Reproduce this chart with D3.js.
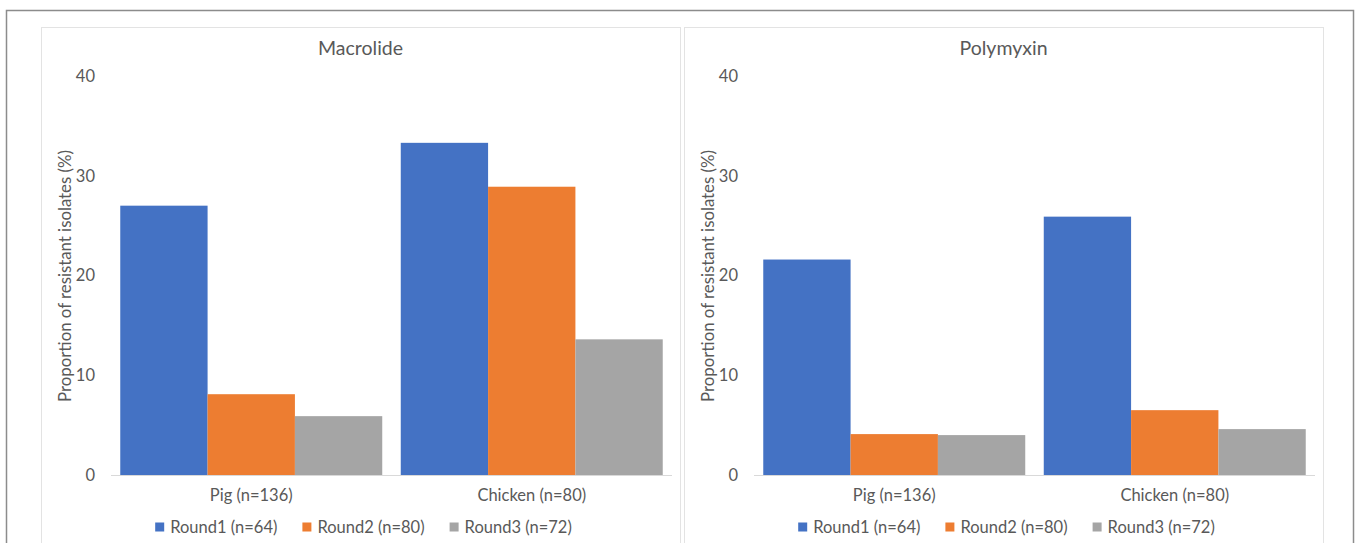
<!DOCTYPE html>
<html>
<head>
<meta charset="utf-8">
<script src="https://cdn.jsdelivr.net/npm/d3@7"></script>
<style>
  html, body { margin: 0; padding: 0; background: #fff; }
  svg { display: block; font-family: Lato, "Open Sans", sans-serif; }
</style>
</head>
<body>
<svg id="chart" width="1357" height="543"></svg>
<script>
// Resistance proportions (%) by animal and sampling round
const categories = ["Pig (n=136)", "Chicken (n=80)"];
const rounds = ["Round1 (n=64)", "Round2 (n=80)", "Round3 (n=72)"];
const panelTitles = ["Macrolide", "Polymyxin"];

const macrolideRound1 = [27.0, 33.3];
const macrolideRound2 = [8.1, 28.9];
const macrolideRound3 = [5.9, 13.6];

const polymyxinRound1 = [21.6, 25.9];
const polymyxinRound2 = [4.1, 6.5];
const polymyxinRound3 = [4.0, 4.6];

const yTicks = [0, 10, 20, 30, 40];
const yTitle = "Proportion of resistant isolates (%)";
const colors = ["#4472C4", "#ED7D31", "#A5A5A5"];

const panelSeries = [
  [macrolideRound1, macrolideRound2, macrolideRound3],
  [polymyxinRound1, polymyxinRound2, polymyxinRound3]
];

const svg = d3.select("#chart");
const textColor = "#595959";
const fontStack = "Lato, 'Open Sans', sans-serif";

// outer frame (continues below the visible area)
svg.append("rect")
  .attr("x", 6.5).attr("y", 10.5)
  .attr("width", 1347).attr("height", 700)
  .attr("fill", "none").attr("stroke", "#8c8c8c").attr("stroke-width", 1.5);

const panelX = [41, 684];
const panelW = 639;

panelTitles.forEach((title, p) => {
  const px = panelX[p];
  const g = svg.append("g");

  g.append("rect")
    .attr("x", px + 0.5).attr("y", 27.5)
    .attr("width", panelW).attr("height", 700)
    .attr("fill", "#fff").attr("stroke", "#e3e3e3").attr("stroke-width", 1);

  const plotLeft = px + 70;
  const plotRight = px + 631;

  const y = d3.scaleLinear().domain([0, 40]).range([475, 76]);
  const x0 = d3.scaleBand().domain(categories).range([plotLeft, plotRight])
    .paddingInner(0).paddingOuter(0);
  const bw = x0.bandwidth();
  const gap = bw * 0.033;
  const x1 = d3.scaleBand().domain(rounds).range([gap, bw - gap])
    .paddingInner(0).paddingOuter(0);

  // title
  g.append("text")
    .attr("x", px + panelW / 2).attr("y", 47)
    .attr("text-anchor", "middle").attr("dominant-baseline", "central")
    .attr("font-size", 19.5).attr("fill", textColor)
    .text(title);

  // y axis
  const yAxis = g.append("g")
    .attr("transform", `translate(${plotLeft},0)`)
    .call(d3.axisLeft(y).tickValues(yTicks).tickSize(0).tickPadding(16));
  yAxis.select(".domain").remove();
  yAxis.selectAll("text")
    .attr("font-size", 16.5).attr("fill", textColor)
    .attr("font-family", fontStack);

  // y title
  g.append("text")
    .attr("transform", `translate(${px + 23},276) rotate(-90)`)
    .attr("text-anchor", "middle").attr("dominant-baseline", "central")
    .attr("font-size", 16.8).attr("fill", textColor)
    .text(yTitle);

  // bars
  const series = panelSeries[p];
  rounds.forEach((r, ri) => {
    g.append("g").selectAll("rect")
      .data(series[ri])
      .join("rect")
      .attr("x", (d, ci) => x0(categories[ci]) + x1(r))
      .attr("y", d => y(d))
      .attr("width", x1.bandwidth())
      .attr("height", d => y(0) - y(d))
      .attr("fill", colors[ri]);
  });

  // baseline
  g.append("line")
    .attr("x1", plotLeft).attr("x2", plotRight)
    .attr("y1", y(0) + 0.5).attr("y2", y(0) + 0.5)
    .attr("stroke", "#d9d9d9").attr("stroke-width", 1);

  // category labels
  const xAxis = g.append("g")
    .attr("transform", `translate(0,${y(0)})`)
    .call(d3.axisBottom(x0).tickSize(0).tickPadding(14));
  xAxis.select(".domain").remove();
  xAxis.selectAll("text")
    .attr("font-size", 16.5).attr("fill", textColor)
    .attr("font-family", fontStack);

  // legend
  const legend = g.append("g");
  const items = legend.selectAll("g").data(rounds).join("g");
  items.append("rect")
    .attr("width", 9).attr("height", 9)
    .attr("y", -4.5)
    .attr("fill", (d, i) => colors[i]);
  items.append("text")
    .attr("x", 15).attr("dominant-baseline", "central")
    .attr("font-size", 16.5).attr("fill", textColor)
    .text(d => d);
  let cx = 0;
  items.each(function () {
    const w = 15 + this.querySelector("text").getComputedTextLength();
    d3.select(this).attr("transform", `translate(${cx},0)`);
    cx += w + 25;
  });
  const totalW = cx - 25;
  legend.attr("transform", `translate(${px + panelW / 2 + 3 - totalW / 2},527)`);
});
</script>
</body>
</html>
